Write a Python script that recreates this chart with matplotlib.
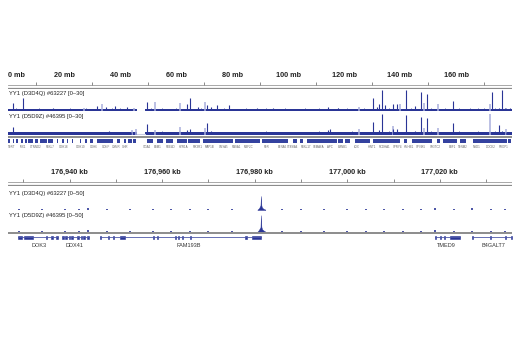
import matplotlib.pyplot as plt

plt.rcParams['font.family'] = ['Liberation Sans', 'DejaVu Sans']

DARK = '#2a3596'
LIGHT = '#a9afdc'
GRAY = '#8c8c8c'

# ---------------- top panel: whole chromosome (mb) ----------------
chr_len = 180
cen_gap = [46.2, 48.9]
top_label_mb = [0, 20, 40, 60, 80, 100, 120, 140, 160]
top_tick_mb = [10, 30, 50, 70, 90, 110, 130, 150, 170]

t1_dark_mb = [1.7, 5.2, 16, 31.8, 35, 38.2, 42.5, 49.5, 63.8, 65, 67.9, 71, 72.5, 74.6,
              79, 89, 94.8, 101.8, 108, 114.3, 117.9, 130.3, 131.7, 132.5, 133.6, 134.6,
              137.5, 139, 142.1, 145.4, 147.4, 149.6, 158.9, 172.9, 175.4, 176.3, 177.5, 179.3]
t1_dark_h = [12, 18, 4, 7, 6, 7, 6, 13, 10, 19, 6, 8, 6, 8,
             8, 4, 5, 3, 3, 6, 5, 18, 6, 10, 30, 9,
             10, 10, 30, 7, 27, 24, 15, 27, 5, 30, 5, 5]
t1_light_mb = [27, 33.6, 45, 52.5, 61.4, 70.4, 125.4, 140, 148.6, 153.6, 172]
t1_light_h = [4, 10, 5, 13, 12, 13, 6, 10, 12, 10, 10]

t2_dark_mb = [1.7, 5.2, 32, 36, 40, 49.5, 63.8, 65, 71, 72.5, 114.3, 115, 130.3, 132.5,
              133.6, 137.5, 139, 142.1, 145.4, 147.4, 149.6, 158.9, 172.9, 175.4, 176.3, 179.3]
t2_dark_h = [10, 4, 4, 5, 4, 15, 6, 7, 16, 5, 6, 8, 17, 6,
             28, 8, 8, 27, 5, 25, 23, 16, 3, 13, 5, 4]
t2_light_mb = [44.3, 45.7, 52.5, 61.4, 70.4, 125.4, 137.5, 148.6, 153.6, 172, 178]
t2_light_h = [6, 7, 6, 10, 9, 8, 12, 9, 9, 28, 8]

grass_mb = [3, 8, 11, 14, 19, 22, 25, 28, 37, 40, 44, 51, 55, 58, 60, 69, 77, 82, 85, 92,
            97, 99, 104, 106, 111, 118, 121, 123, 127, 136, 144, 151, 156, 161, 165, 168,
            170, 174, 178]
grass1_h = [4, 3, 4, 3, 3, 4, 3, 4, 5, 4, 3, 4, 4, 3, 4, 5, 4, 3, 4, 4,
            3, 4, 3, 4, 4, 5, 4, 3, 5, 4, 5, 4, 5, 4, 5, 4, 5, 4, 5]
grass2_h = [3, 4, 3, 4, 4, 3, 4, 3, 4, 3, 4, 3, 5, 4, 3, 4, 3, 4, 3, 5,
            4, 3, 4, 3, 5, 4, 3, 5, 4, 5, 4, 5, 4, 5, 4, 5, 4, 5, 4]

gene_blocks_mb = [(0, 0.7), (1.8, 2.1), (2.9, 3.6), (4.6, 5.4), (6.1, 6.8), (7.1, 8.9),
                  (9.6, 10.7), (11.4, 13.9), (14.3, 16.1), (17.5, 17.9), (19.3, 20.0),
                  (21.1, 21.4), (22.9, 23.2), (25.7, 26.1), (27.5, 28.2), (29.3, 30.4),
                  (31.8, 37.5), (38.9, 40.0), (41.4, 42.1), (42.9, 44.3), (44.6, 45.7),
                  (49.6, 51.8), (53.2, 55.4), (56.4, 58.9), (60.4, 63.9), (64.3, 68.6),
                  (69.6, 80.4), (81.1, 90.0), (90.7, 100.0), (101.8, 103.2), (104.3, 105.4),
                  (106.8, 117.5), (117.9, 119.6), (120.4, 122.1), (123.9, 129.3),
                  (130.4, 140.0), (141.4, 142.5), (144.3, 151.4), (153.2, 154.3),
                  (155.4, 160.4), (161.4, 163.6), (166.1, 178.2), (178.6, 179.6)]
gene_name_mb = [1.4, 5.3, 10, 15, 20, 26, 30.7, 35, 38.5, 42, 49.6, 53.3, 58, 62.8, 67.7,
                72, 76.9, 81.7, 86, 92.5, 98, 101.8, 106.5, 110.8, 115, 119.6, 124.6, 130,
                134.6, 139.3, 143.2, 147.5, 152.5, 158.6, 162.5, 167.5, 172.5, 177]
gene_names = ["TERT", "IRX1", "CTNND2", "FBXL7", "CDH18", "CDH10", "CDH6", "GDNF", "OSMR",
              "GHR", "ITGA2", "ESM1", "PDE4D", "HTR1A", "PIK3R1", "MAP1B", "CMYA5", "RASA1",
              "MEF2C", "FER", "EFNA5", "ST8SIA4", "FBXL17", "SEMA6A", "APC", "LMNB1",
              "LOX", "HINT1", "PCDHA1", "SPRY4", "HMHB1", "SPINK5", "SH3TC2", "EBF1",
              "TENM2", "NSD1", "DOCK2", "PROP1"]

# ---------------- bottom panel: zoomed region (kb) ----------------
zoom_lo, zoom_hi = 176926.7, 177035.6
bot_label_kb = [176940, 176960, 176980, 177000, 177020]
bot_tick_kb = [176930, 176940, 176950, 176960, 176970, 176980, 176990, 177000, 177010,
               177020, 177030]

peak_kb = [176980.6, 176980.9, 176981.1, 176981.25, 176981.35, 176981.45, 176981.6, 176981.9, 176982.3]
b1_peak = [1, 4, 8, 12, 35, 11, 6, 3, 1]
b2_peak = [1, 5, 9, 12, 42, 13, 7, 4, 1]
bump_kb = [176929, 176934, 176939, 176942, 176944, 176948, 176953, 176958, 176962, 176966,
           176970, 176975, 176986, 176990, 176995, 177000, 177004, 177008, 177012, 177016,
           177019, 177023, 177027, 177031, 177034]
b1_bump = [2, 2, 2, 2, 5, 2, 2, 2, 2, 2, 2, 2, 2, 2, 2, 2, 2, 2, 2, 2, 5, 2, 4, 2, 2]
b2_bump = [2, 2, 3, 2, 4, 2, 3, 2, 2, 3, 2, 2, 3, 2, 2, 3, 2, 2, 2, 2, 4, 2, 3, 2, 2]

genes = {
    "DOK3": [(176928.9, 176929.7), (176930.2, 176932.1), (176934.9, 176935.2),
             (176936.0, 176936.4), (176937.1, 176937.5)],
    "DDX41": [(176938.4, 176938.8), (176939.1, 176939.5), (176939.8, 176940.1),
              (176940.4, 176940.8), (176941.6, 176942.1), (176942.4, 176942.7),
              (176943.0, 176943.3), (176943.7, 176944.2)],
    "FAM193B": [(176946.6, 176946.8), (176948.3, 176948.5), (176949.4, 176949.6),
                (176950.9, 176952.0), (176958.0, 176958.2), (176958.9, 176959.1),
                (176962.8, 176963.0), (176963.4, 176963.6), (176964.3, 176964.5),
                (176966.0, 176966.2), (176977.9, 176978.3), (176979.4, 176981.4)],
    "TMED9": [(177018.9, 177019.1), (177020.0, 177020.2), (177020.9, 177021.1),
              (177022.2, 177024.3)],
    "B4GALT7": [(177026.9, 177027.1), (177030.8, 177031.0), (177034.0, 177034.2),
                (177035.3, 177035.6)],
}
gene_label_kb = {"DOK3": 176933.4, "DDX41": 176941.0, "FAM193B": 176965.8,
                 "TMED9": 177021.5, "B4GALT7": 177031.5}

W, H = 520, 350
fig = plt.figure(figsize=(W / 100, H / 100), dpi=100)


def px_axes(x0, y0, x1, y1):
    ax = fig.add_axes([x0 / W, 1 - y1 / H, (x1 - x0) / W, (y1 - y0) / H])
    ax.set_axis_off()
    return ax


def ruler(y0, lo, hi, labels, ticks, fmt, left_first):
    ax = px_axes(8, y0, 512, y0 + 19)
    ax.set_xlim(lo, hi)
    ax.set_ylim(19, 0)
    ax.plot([lo, hi], [14.5, 14.5], color='#9a9a9a', lw=0.6)
    ax.plot([lo, hi], [18.5, 18.5], color=GRAY, lw=1.6)
    ax.vlines(ticks, 11.8, 14.5, color='#777777', lw=0.6)
    for i, v in enumerate(labels):
        ha = 'left' if (left_first and i == 0) else 'center'
        ax.text(v, 5.6, fmt(v), ha=ha, va='center', fontsize=5.2,
                fontweight='bold', color='#222222')
    return ax


def track(y0, y1, lo, hi, ymax, label):
    ax = px_axes(8, y0, 512, y1)
    ax.set_xlim(lo, hi)
    ax.set_ylim(0, ymax)
    ax.text(0.002, 0.82, label, transform=ax.transAxes, fontsize=4.2,
            color='#222222', va='center', ha='left', zorder=5)
    return ax


# top ruler
ruler(70, 0, chr_len, top_label_mb, top_tick_mb, lambda v: f"{v} mb", True)

# top coverage tracks
top_tracks = [
    (90, 111, "YY1 (D3D4Q) #63227 [0\u201330]", t1_dark_mb, t1_dark_h, t1_light_mb, t1_light_h, grass1_h),
    (113, 134.5, "YY1 (D5D9Z) #46395 [0\u201330]", t2_dark_mb, t2_dark_h, t2_light_mb, t2_light_h, grass2_h),
]
for y0, y1, lab, dmb, dh, lmb, lh, gh in top_tracks:
    ax = track(y0, y1, 0, chr_len, 30, lab)
    ax.vlines(lmb, 0, lh, color=LIGHT, lw=1.1)
    for a, b in [(0, cen_gap[0]), (cen_gap[1], chr_len)]:
        ax.fill_between([a, b], 0, 3.0, color=DARK, lw=0)
    ax.plot(cen_gap, [0.5, 0.5], color='#c8cbe0', lw=0.8)
    ax.vlines(grass_mb, 0, gh, color=DARK, lw=0.5)
    ax.vlines(dmb, 0, dh, color=DARK, lw=0.8)

# separator + gene track (top)
ax = px_axes(8, 135, 512, 150)
ax.set_xlim(0, chr_len)
ax.set_ylim(150, 135)
ax.plot([0, chr_len], [136.6, 136.6], color=GRAY, lw=1.4)
for a, b in gene_blocks_mb:
    ax.fill_between([a, b], 139.4, 143.2, color='#34429f', lw=0)
for x, name in zip(gene_name_mb, gene_names):
    ax.text(x, 146.6, name, fontsize=2.1, color='#666666', ha='center', va='center')

# bottom ruler
ruler(167, zoom_lo, zoom_hi, bot_label_kb, bot_tick_kb, lambda v: f"{v:,} kb", False)

# bottom coverage tracks
bot_tracks = [
    (190, 210, "YY1 (D3D4Q) #63227 [0\u201350]", b1_peak, b1_bump),
    (212, 232, "YY1 (D5D9Z) #46395 [0\u201350]", b2_peak, b2_bump),
]
for y0, y1, lab, pk, bump in bot_tracks:
    ax = track(y0, y1, zoom_lo, zoom_hi, 50, lab)
    ax.plot([zoom_lo, zoom_hi], [0.4, 0.4], color='#8f97cf', lw=0.7)
    ax.vlines(bump_kb, 0, bump, color=DARK, lw=1.2)
    ax.fill_between(peak_kb, 0, pk, color=DARK, lw=0.3)

# separator + gene models (bottom)
ax = px_axes(8, 232, 512, 250)
ax.set_xlim(zoom_lo, zoom_hi)
ax.set_ylim(250, 232)
ax.plot([zoom_lo, zoom_hi], [233.4, 233.4], color=GRAY, lw=1.4)
for name, exons in genes.items():
    ax.plot([exons[0][0], exons[-1][1]], [237.3, 237.3], color='#4d58a8', lw=0.6)
    for a, b in exons:
        h = 1.7 if (b - a) > 0.5 else 1.2
        ax.fill_between([a, b], 237.3 - h, 237.3 + h, color=DARK, lw=0.4, edgecolor=DARK)
    ax.text(gene_label_kb[name], 245.3, name, fontsize=4.0, color='#333333',
            ha='center', va='center')

fig.savefig("out.png", dpi=100, facecolor='white')
